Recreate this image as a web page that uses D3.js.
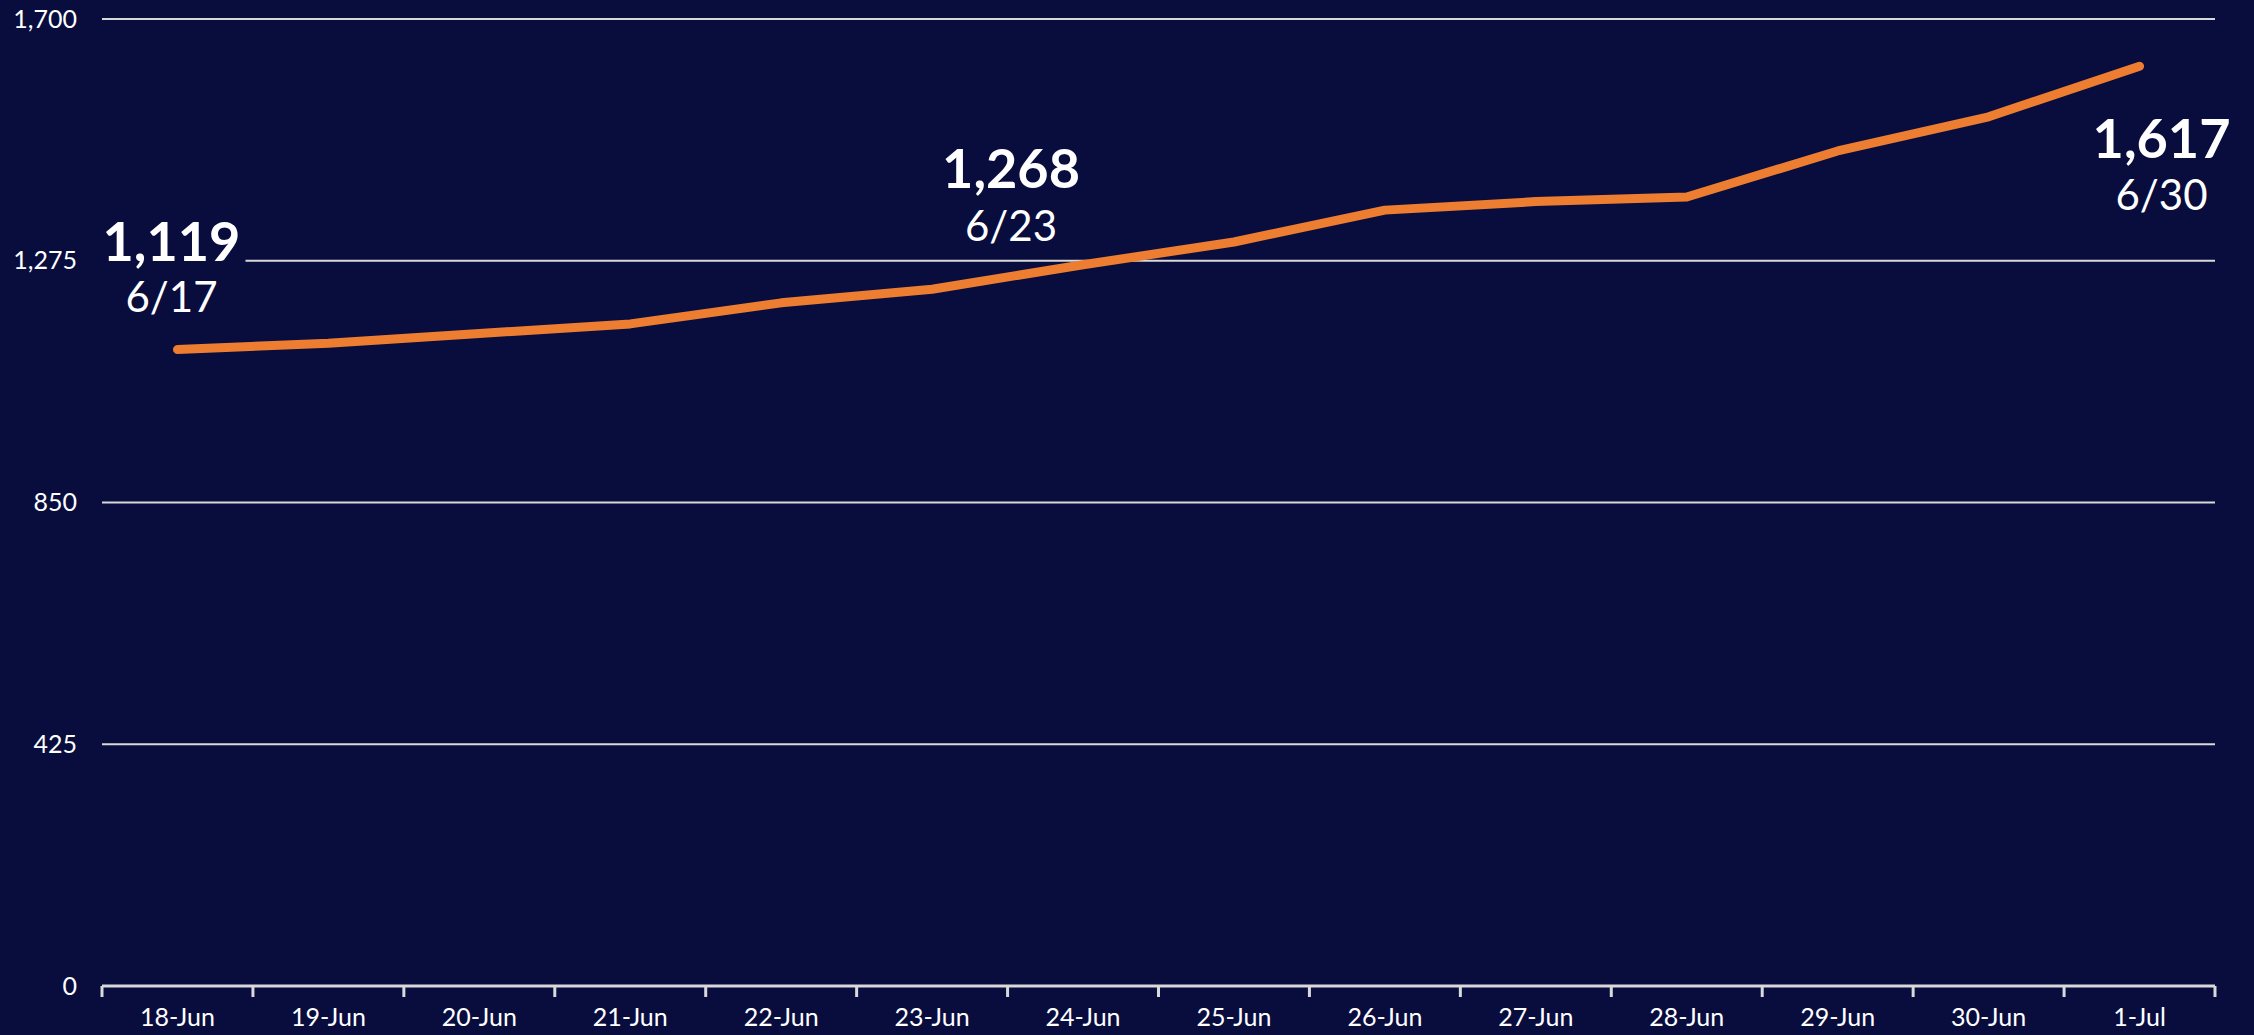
<!DOCTYPE html>
<html>
<head>
<meta charset="utf-8">
<script src="https://d3js.org/d3.v7.min.js"></script>
<style>
  html, body { margin: 0; padding: 0; background: #080d3e; }
  svg { display: block; }
  svg text { font-family: Lato, "Open Sans", sans-serif; }
</style>
</head>
<body>
<svg id="chart" width="2254" height="1035"></svg>
<script>
// days on the x axis
var days = ["18-Jun", "19-Jun", "20-Jun", "21-Jun", "22-Jun", "23-Jun", "24-Jun",
            "25-Jun", "26-Jun", "27-Jun", "28-Jun", "29-Jun", "30-Jun", "1-Jul"];
// values
var values = [1119, 1130, 1147, 1164, 1201, 1225, 1268,
              1308, 1364, 1379, 1387, 1468, 1528, 1617];
var yTicks = [0, 425, 850, 1275, 1700];
// callouts: index into days, the big number and the date under it
var callouts = [
  { i: 0,  value: "1,119", date: "6/17" },
  { i: 6,  value: "1,268", date: "6/23" },
  { i: 13, value: "1,617", date: "6/30" }
];

var svg = d3.select("#chart");
var plotLeft = 102, plotRight = 2215, plotTop = 19, plotBottom = 986;
var bg = "#080d3e";

var x = d3.scaleBand().domain(days).range([plotLeft, plotRight]);
var y = d3.scaleLinear().domain([0, 1700]).range([plotBottom, plotTop]);

svg.append("rect").attr("width", 2254).attr("height", 1035).attr("fill", bg);

// gridlines (not at zero, the axis line sits there)
svg.append("g").selectAll("line")
  .data(yTicks.filter(function(d) { return d > 0; }))
  .enter().append("line")
    .attr("x1", plotLeft).attr("x2", plotRight)
    .attr("y1", function(d) { return y(d); })
    .attr("y2", function(d) { return y(d); })
    .attr("stroke", "#d9d9d9").attr("stroke-width", 2);

// y labels
var yAxis = svg.append("g")
  .attr("transform", "translate(" + plotLeft + ",0)")
  .call(d3.axisLeft(y).tickValues(yTicks).tickSize(0).tickPadding(25).tickFormat(d3.format(",")));
yAxis.select(".domain").remove();
yAxis.selectAll("text").attr("fill", "#ffffff").attr("font-size", 25);

// x axis: labels centred in bands, ticks on the band edges
var xAxis = svg.append("g")
  .attr("transform", "translate(0," + plotBottom + ")")
  .call(d3.axisBottom(x).tickSize(0).tickPadding(22));
xAxis.select(".domain").remove();
xAxis.selectAll("text").attr("fill", "#ffffff").attr("font-size", 25);

svg.append("line")
  .attr("x1", plotLeft).attr("x2", plotRight)
  .attr("y1", plotBottom).attr("y2", plotBottom)
  .attr("stroke", "#d9d9d9").attr("stroke-width", 3);

var edges = days.map(function(d) { return x(d); }).concat([x.range()[1]]);
svg.append("g").selectAll("line")
  .data(edges)
  .enter().append("line")
    .attr("x1", function(d) { return d; }).attr("x2", function(d) { return d; })
    .attr("y1", plotBottom).attr("y2", plotBottom + 11)
    .attr("stroke", "#d9d9d9").attr("stroke-width", 3);

// the line
var line = d3.line()
  .x(function(d, i) { return x(days[i]) + x.bandwidth() / 2; })
  .y(function(d) { return y(d); });

svg.append("path")
  .datum(values)
  .attr("d", line)
  .attr("fill", "none")
  .attr("stroke", "#ed7d31")
  .attr("stroke-width", 9)
  .attr("stroke-linecap", "round")
  .attr("stroke-linejoin", "round");

// callouts, each on a box of background colour (it hides the gridline behind 1,119)
var offsets = [
  { dx: -6,  dy: -88, dd: 51 },
  { dx: -72, dy: -77, dd: 53 },
  { dx: 22,  dy: 92,  dd: 52 }
];
callouts.forEach(function(c, k) {
  var cx = x(days[c.i]) + x.bandwidth() / 2 + offsets[k].dx;
  var cy = y(values[c.i]) + offsets[k].dy;
  var g = svg.append("g").attr("text-anchor", "middle").attr("fill", "#ffffff");
  g.append("rect")
    .attr("x", cx - 74).attr("y", cy - 48)
    .attr("width", 148).attr("height", offsets[k].dd + 60)
    .attr("fill", bg);
  g.append("text")
    .attr("x", cx).attr("y", cy)
    .attr("font-size", 54).attr("font-weight", "bold")
    .text(c.value);
  g.append("text")
    .attr("x", cx).attr("y", cy + offsets[k].dd)
    .attr("font-size", 42)
    .text(c.date);
});
</script>
</body>
</html>
